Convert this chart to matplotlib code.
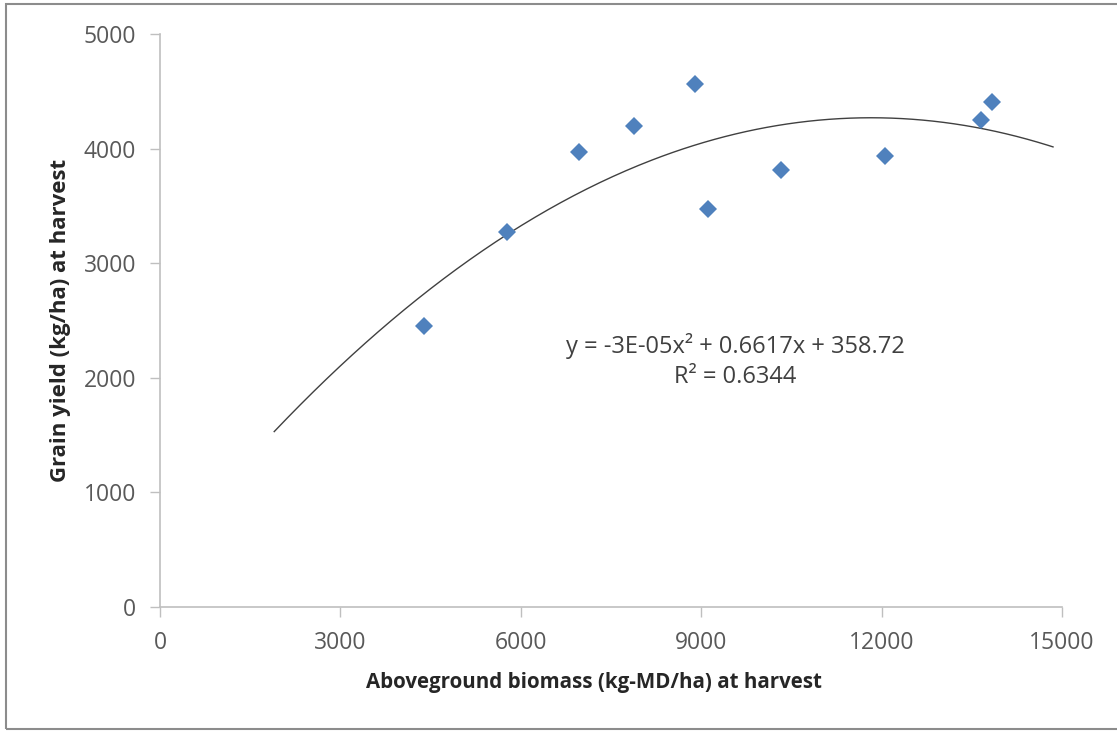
import numpy as np
import matplotlib
matplotlib.use("Agg")
import matplotlib.pyplot as plt
from matplotlib.patches import Rectangle

# biomass (kg-MD/ha) and grain yield (kg/ha)
biomass = [4390, 5775, 6960, 7890, 8900, 9110, 10330, 12050, 13660, 13840]
grain_yield = [2455, 3270, 3970, 4200, 4560, 3475, 3810, 3935, 4250, 4410]

x_ticks = [0, 3000, 6000, 9000, 12000, 15000]
y_ticks = [0, 1000, 2000, 3000, 4000, 5000]
trend_range = (1900, 14850)

GREY_TEXT = "#595959"
AXIS_GREY = "#bfbfbf"
BLUE = "#4F81BD"

plt.rcParams["font.family"] = ["Open Sans", "DejaVu Sans"]

fig = plt.figure(figsize=(11.17, 7.31), dpi=100)
ax = fig.add_axes([0.1432, 0.1696, 0.8076, 0.7839])

# polynomial (order 2) trendline, like Excel's
coef = np.polyfit(biomass, grain_yield, 2)
xs = np.linspace(*trend_range, 300)
ax.plot(xs, np.polyval(coef, xs), color="#404040", lw=1.0, zorder=2)

ax.plot(biomass, grain_yield, linestyle="none", marker="D", ms=9.5,
        color=BLUE, markeredgewidth=0, zorder=3)

ax.set_xlim(0, 15000)
ax.set_ylim(0, 5000)
ax.set_xticks(x_ticks)
ax.set_yticks(y_ticks)

for side in ["top", "right"]:
    ax.spines[side].set_visible(False)
for side in ["left", "bottom"]:
    ax.spines[side].set_color(AXIS_GREY)
    ax.spines[side].set_linewidth(1.2)
ax.tick_params(axis="both", colors=AXIS_GREY, labelcolor=GREY_TEXT,
               labelsize=16.5, length=7, width=1.0, direction="out", pad=10)

ax.set_xlabel("Aboveground biomass (kg-MD/ha) at harvest", fontsize=14.8,
              fontweight="bold", color="#262626")
ax.xaxis.set_label_coords(0.481, -0.114)
ax.set_ylabel("Grain yield (kg/ha) at harvest", fontsize=16,
              fontweight="bold", color="#262626", labelpad=9)

ax.text(0.6375, 0.429, "y = -3E-05x² + 0.6617x + 358.72\nR² = 0.6344",
        transform=ax.transAxes, ha="center", va="center", fontsize=17,
        color="#404040", linespacing=1.3, multialignment="center")

# outer chart border (right edge falls outside the image)
fig.patches.append(Rectangle((0.005, 0.003), 1.2, 0.992, transform=fig.transFigure,
                             fill=False, edgecolor="#8c8c8c", lw=1.5))

fig.savefig("out.png", dpi=100)
